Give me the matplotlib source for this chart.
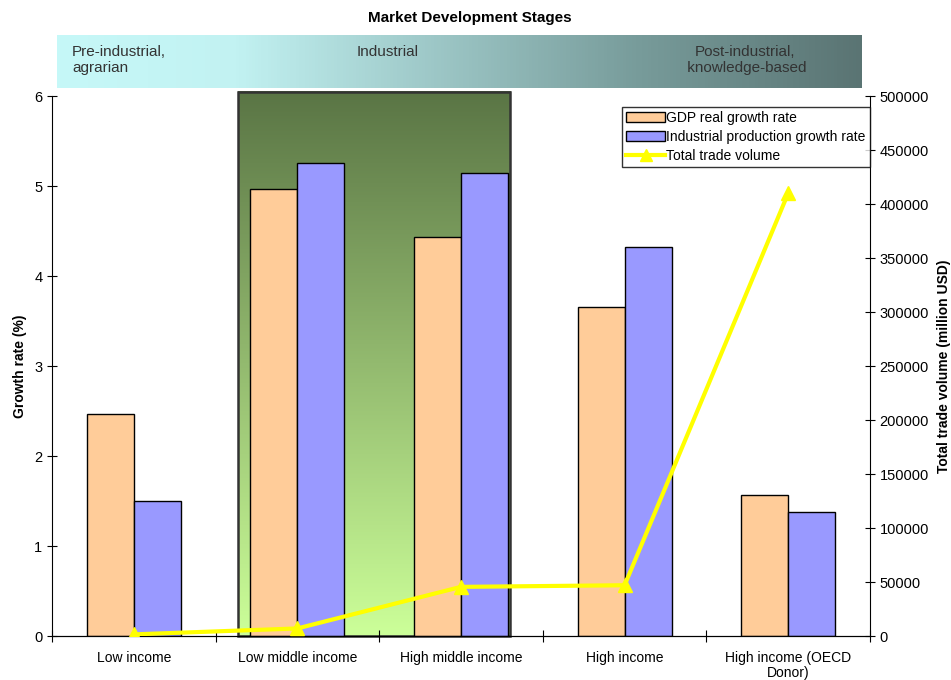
import numpy as np
import matplotlib.pyplot as plt
from matplotlib.colors import LinearSegmentedColormap
from matplotlib.patches import Rectangle

plt.rcParams['font.family'] = ['Liberation Sans', 'DejaVu Sans']

categories = ['Low income', 'Low middle income', 'High middle income',
              'High income', 'High income (OECD\nDonor)']
gdp_growth = [2.47, 4.97, 4.43, 3.66, 1.57]
industrial_growth = [1.50, 5.26, 5.14, 4.32, 1.38]
trade_volume = [1500, 7000, 45500, 47000, 410000]

stage_labels = ['Pre-industrial,\nagrarian', 'Industrial', 'Post-industrial,\n knowledge-based']

fig = plt.figure(figsize=(9.51, 6.8), dpi=100)

# band with the development stages
band = fig.add_axes([57 / 951, 1 - 88 / 680, 805 / 951, 53 / 680])
band_cmap = LinearSegmentedColormap.from_list('band', [
    (0.0, (198 / 255, 248 / 255, 248 / 255)),
    (0.22, (194 / 255, 242 / 255, 242 / 255)),
    (0.72, (120 / 255, 156 / 255, 155 / 255)),
    (1.0, (90 / 255, 116 / 255, 115 / 255))])
band.imshow(np.linspace(0, 1, 256).reshape(1, -1), cmap=band_cmap,
            aspect='auto', extent=[0, 1, 0, 1])
band.set_xlim(0, 1)
band.set_ylim(0, 1)
band.axis('off')
band.text(15 / 805, 0.82, stage_labels[0], ha='left', va='top', fontsize=11, color='#333333')
band.text(331 / 805, 0.82, stage_labels[1], ha='center', va='top', fontsize=11, color='#333333')
band.text(688 / 805, 0.82, stage_labels[2], ha='center', va='top', fontsize=11, color='#333333',
          multialignment='center')

fig.text(0.494, 0.973, 'Market Development Stages', ha='center', va='center',
         fontsize=11, fontweight='bold')

ax = fig.add_axes([52 / 951, 1 - 636 / 680, 818 / 951, 540 / 680])
x = np.arange(len(categories))
w = 0.287

# green highlight for the industrial stage
green_cmap = LinearSegmentedColormap.from_list('green', [
    (204 / 255, 255 / 255, 153 / 255), (90 / 255, 117 / 255, 69 / 255)])
img = ax.imshow(np.linspace(0, 1, 256).reshape(-1, 1)[::-1], cmap=green_cmap,
                aspect='auto', extent=[0.634, 2.30, 0, 6.05], zorder=0.5)
img.set_clip_on(False)
ax.add_patch(Rectangle((0.634, 0), 2.30 - 0.634, 6.05, fill=False,
                       edgecolor='#333333', lw=1.8, zorder=0.6, clip_on=False))

ax.bar(x - w / 2, gdp_growth, w, color='#FFCC99', edgecolor='black', lw=1,
       label='GDP real growth rate', zorder=2)
ax.bar(x + w / 2, industrial_growth, w, color='#9999FF', edgecolor='black', lw=1,
       label='Industrial production growth rate', zorder=2)

ax.set_xlim(-0.5, 4.5)
ax.set_ylim(0, 6)
ax.set_yticks(range(7))
ax.set_xticks(np.arange(-0.5, 5, 1))
ax.set_xticklabels([])
ax.set_xticks(x, minor=True)
ax.set_xticklabels(categories, minor=True, fontsize=10, linespacing=1.05)
ax.tick_params(axis='x', which='minor', length=0, pad=11)
ax.tick_params(axis='x', which='major', direction='inout', length=8)
ax.tick_params(axis='y', direction='inout', length=7, labelsize=10.5)
ax.spines['top'].set_visible(False)
ax.spines['right'].set_visible(False)
ax.spines['bottom'].set_zorder(3)
ax.set_ylabel('Growth rate (%)', fontsize=10, fontweight='bold', labelpad=5)

ax2 = ax.twinx()
ax2.patch.set_visible(False)
ax2.plot(x, trade_volume, color='#FFFF00', lw=3, marker='^', markersize=10,
         label='Total trade volume', zorder=5)
ax2.set_ylim(0, 500000)
ax2.set_yticks(np.arange(0, 500001, 50000))
ax2.tick_params(axis='y', direction='inout', length=7, labelsize=10.5)
ax2.spines['top'].set_visible(False)
ax2.spines['left'].set_visible(False)
ax2.set_ylabel('Total trade volume (million USD)', fontsize=10, fontweight='bold', labelpad=6)

handles = ax.get_legend_handles_labels()[0] + ax2.get_legend_handles_labels()[0]
labels = ax.get_legend_handles_labels()[1] + ax2.get_legend_handles_labels()[1]
leg = fig.legend(handles, labels, loc='upper right', bbox_to_anchor=(870 / 951, 1 - 107 / 680),
                 fontsize=10, frameon=True, fancybox=False, edgecolor='black',
                 borderpad=0.3, handlelength=2.8, handletextpad=0.1, labelspacing=0.35,
                 borderaxespad=0, markerscale=0.8)
leg.get_frame().set_linewidth(1)

fig.savefig('out.png', dpi=100)
